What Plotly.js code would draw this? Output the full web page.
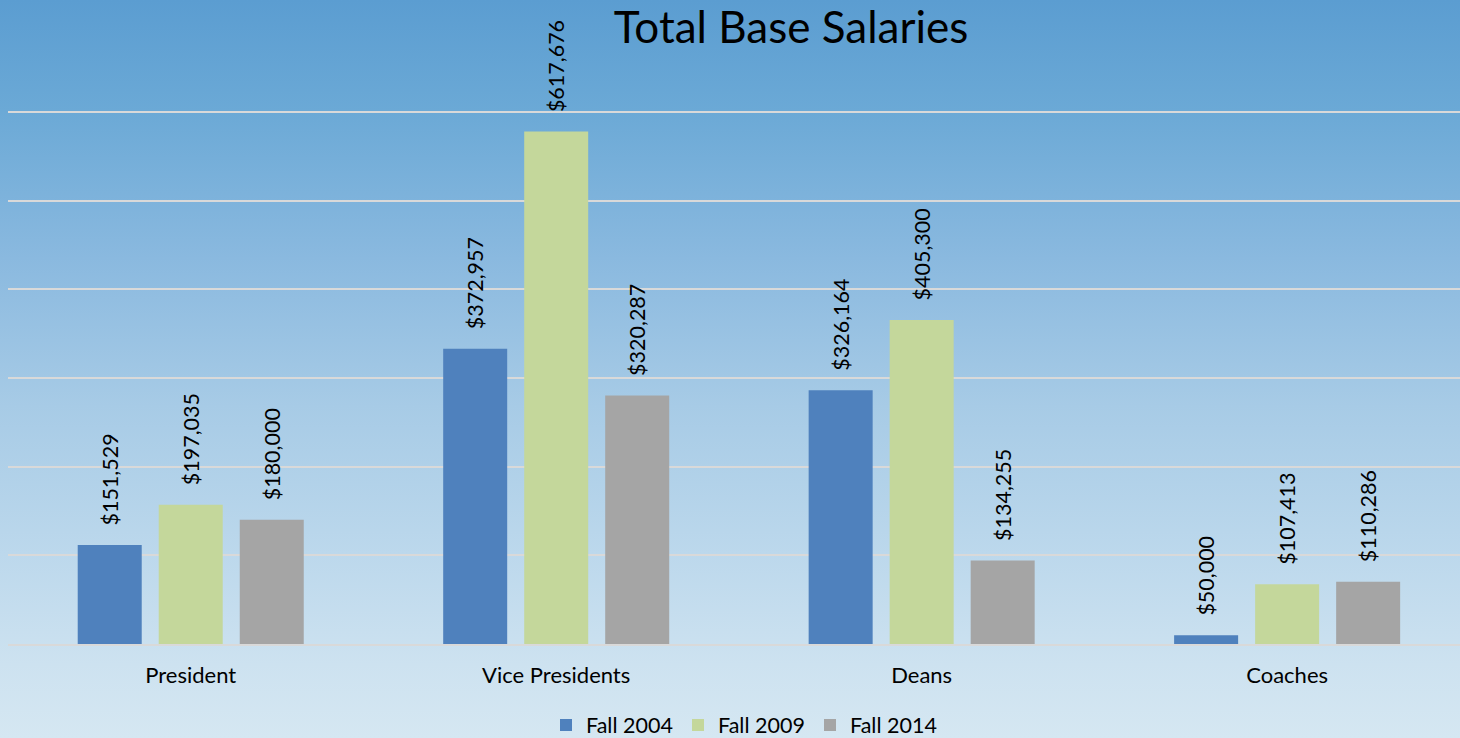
<!DOCTYPE html>
<html>
<head>
<meta charset="utf-8">
<script src="https://cdn.plot.ly/plotly-3.0.1.min.js"></script>
<style>
  html, body { margin: 0; padding: 0; }
  #chart {
    width: 1460px; height: 738px;
    background: linear-gradient(to bottom, #5b9dd1 0%, #6ba9d6 15%, #8ab9df 35%, #a7cbe6 55%, #bcd8ec 75%, #cde2f0 90%, #d5e7f2 100%);
  }
</style>
</head>
<body>
<div id="chart"></div>
<script>
const categories = ['President', 'Vice Presidents', 'Deans', 'Coaches'];
const seriesNames = ['Fall 2004', 'Fall 2009', 'Fall 2014'];
const fall2004 = [151529, 372957, 326164, 50000];
const fall2009 = [197035, 617676, 405300, 107413];
const fall2014 = [180000, 320287, 134255, 110286];
const gridValues = [40000, 140000, 240000, 340000, 440000, 540000, 640000];

const colors = ['#4f81bd', '#c4d79b', '#a5a5a5'];
const font = 'Lato, "Open Sans", sans-serif';

function barTrace(name, values, color) {
  return {
    type: 'bar',
    name: name,
    x: categories,
    y: values,
    marker: { color: color },
    texttemplate: '\u00a0\u00a0\u00a0%{y:$,.0f}',
    textposition: 'outside',
    textangle: -90,
    constraintext: 'none',
    textfont: { family: font, size: 21.5, color: '#000' },
    hoverinfo: 'skip',
    cliponaxis: true
  };
}

const data = [
  barTrace(seriesNames[0], fall2004, colors[0]),
  barTrace(seriesNames[1], fall2009, colors[1]),
  barTrace(seriesNames[2], fall2014, colors[2])
];

const layout = {
  width: 1460,
  height: 738,
  margin: { l: 8, r: 0, t: 20, b: 94 },
  paper_bgcolor: 'rgba(0,0,0,0)',
  plot_bgcolor: 'rgba(0,0,0,0)',
  font: { family: font, color: '#000' },
  title: {
    text: 'Total Base Salaries',
    font: { family: font, size: 44, color: '#000' },
    xref: 'container', x: 791 / 1460, xanchor: 'center',
    yref: 'container', y: 1 - 28 / 738, yanchor: 'middle'
  },
  barmode: 'group',
  bargap: 0.335,
  bargroupgap: 0.21,
  xaxis: {
    type: 'category',
    range: [-0.5, 3.473],
    showgrid: false,
    showline: true,
    linecolor: '#d9d9d9',
    linewidth: 2,
    ticks: '',
    ticklabelstandoff: 11,
    tickfont: { family: font, size: 22, color: '#000' },
    fixedrange: true
  },
  yaxis: {
    range: [40000, 743500],
    tickvals: gridValues,
    showticklabels: false,
    showgrid: true,
    gridcolor: '#d9d9d9',
    gridwidth: 2,
    zeroline: false,
    showline: false,
    fixedrange: true
  },
  showlegend: true,
  legend: {
    orientation: 'h',
    xref: 'container', x: 744 / 1460, xanchor: 'center',
    yref: 'container', y: 1 - 725 / 738, yanchor: 'middle',
    font: { family: font, size: 21.5, color: '#000' },
    bgcolor: 'rgba(0,0,0,0)',
    itemwidth: 30,
    entrywidth: 87,
    traceorder: 'normal'
  }
};

Plotly.newPlot('chart', data, layout, { displayModeBar: false, staticPlot: true });
</script>
</body>
</html>
